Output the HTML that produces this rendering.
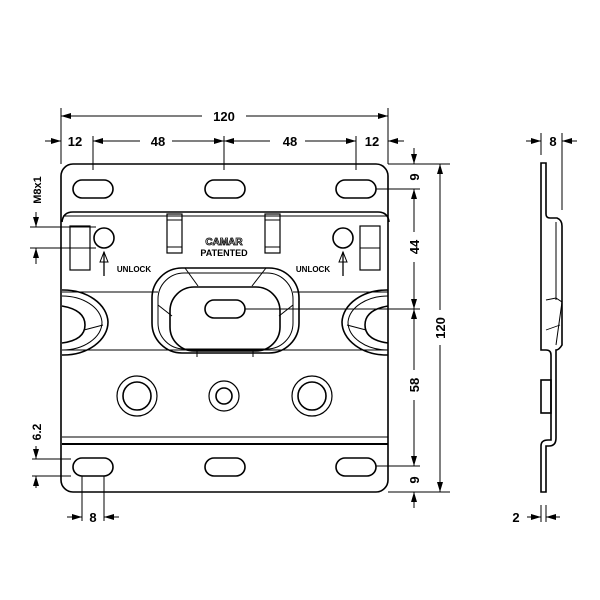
<!DOCTYPE html>
<html><head><style>body{margin:0;background:#fff}svg{display:block}</style></head><body>
<svg width="600" height="600" viewBox="0 0 600 600" xmlns="http://www.w3.org/2000/svg" font-family="Liberation Sans, sans-serif" font-weight="bold">
<defs>
<marker id="a" viewBox="0 0 10 6" refX="10" refY="3" markerWidth="10" markerHeight="6" orient="auto-start-reverse" markerUnits="userSpaceOnUse"><path d="M0,0L10,3L0,6z" fill="#000"/></marker>
</defs>
<g fill="none" stroke="#000" stroke-width="1.6">
<!-- plate -->
<path d="M61,176 A12,12 0 0 1 73,164 H376 A12,12 0 0 1 388,176 V480 A12,12 0 0 1 376,492 H73 A12,12 0 0 1 61,480 Z"/>
<path d="M62,222 Q63,212 73,212 H378 Q388,212 389,222"/>
<line x1="63" y1="216" x2="387" y2="216" stroke-width="0.9"/>
<line x1="62" y1="437" x2="388" y2="437" stroke-width="1"/>
<line x1="62" y1="444" x2="388" y2="444" stroke-width="2"/>
<!-- slots -->
<rect x="73" y="180" width="40" height="18" rx="9"/>
<rect x="205" y="180" width="40" height="18" rx="9"/>
<rect x="336" y="180" width="40" height="18" rx="9"/>
<rect x="73" y="458" width="40" height="18" rx="9"/>
<rect x="205" y="458" width="40" height="18" rx="9"/>
<rect x="336" y="458" width="40" height="18" rx="9"/>
<!-- top features -->
<rect x="70" y="226" width="20" height="44" stroke-width="1.2"/><line x1="70" y1="248" x2="90" y2="248" stroke-width="1"/>
<rect x="360" y="226" width="20" height="44" stroke-width="1.2"/><line x1="360" y1="248" x2="380" y2="248" stroke-width="1"/>
<circle cx="104" cy="238" r="10"/><circle cx="343" cy="238" r="10"/>
<rect x="167" y="214" width="15" height="39" stroke-width="1.2"/><line x1="167" y1="247" x2="182" y2="247" stroke-width="1"/><line x1="167" y1="220" x2="182" y2="220" stroke-width="1"/>
<rect x="265" y="214" width="15" height="39" stroke-width="1.2"/><line x1="265" y1="247" x2="280" y2="247" stroke-width="1"/><line x1="265" y1="220" x2="280" y2="220" stroke-width="1"/>
<!-- unlock arrows -->
<path d="M104,276V252" stroke-width="1.3"/><path d="M100,262L104,252L108,262Z" stroke-width="1"/>
<path d="M343,276V252" stroke-width="1.3"/><path d="M339,262L343,252L347,262Z" stroke-width="1"/>
<!-- central recess -->
<rect x="152" y="268" width="147" height="85" rx="30"/>
<rect x="158" y="273" width="135" height="76" rx="26" stroke-width="1"/>
<rect x="170" y="287" width="110" height="64" rx="24"/>
<rect x="205" y="300" width="40" height="18" rx="9"/>
<line x1="62" y1="292" x2="158" y2="292" stroke-width="1"/><line x1="293" y1="292" x2="388" y2="292" stroke-width="1"/>
<line x1="62" y1="350" x2="388" y2="350" stroke-width="1"/>
<line x1="185" y1="268" x2="198" y2="286" stroke-width="1"/><line x1="266" y1="268" x2="252" y2="286" stroke-width="1"/>
<line x1="158" y1="305" x2="172" y2="316" stroke-width="1"/><line x1="293" y1="305" x2="279" y2="316" stroke-width="1"/>
<line x1="197" y1="350" x2="197" y2="357" stroke-width="1"/><line x1="253" y1="350" x2="253" y2="357" stroke-width="1"/>
<!-- side recesses -->
<path d="M62,290 A45,33 0 0 1 108,322 A45,33 0 0 1 62,355"/>
<path d="M62,296 A40,28 0 0 1 102,322 A40,28 0 0 1 62,350" stroke-width="1"/>
<path d="M62,306 Q85,310 85,325 Q85,340 62,343" />
<line x1="84" y1="330" x2="103" y2="325" stroke-width="1"/>
<path d="M388,290 A45,33 0 0 0 342,322 A45,33 0 0 0 388,355"/>
<path d="M388,296 A40,28 0 0 0 348,322 A40,28 0 0 0 388,350" stroke-width="1"/>
<path d="M388,306 Q365,310 365,325 Q365,340 388,343"/>
<line x1="366" y1="330" x2="347" y2="325" stroke-width="1"/>
<!-- holes -->
<circle cx="137" cy="396" r="20" stroke-width="1.2"/><circle cx="137" cy="396" r="14"/>
<circle cx="224" cy="396" r="15" stroke-width="1.2"/><circle cx="224" cy="396" r="8"/>
<circle cx="312" cy="396" r="20" stroke-width="1.2"/><circle cx="312" cy="396" r="14"/>
<!-- side view -->
<path d="M541,163 H546 V214 Q546,218 550,218 H557 Q562,220 562,226 V345 Q559,350 556,350 V438 Q556,446 549,446 H546 V492 H541 V446 Q541,440 548,440 H551 V355 Q551,350 546,350 H541 Z"/>
<line x1="556" y1="222" x2="556" y2="300" stroke-width="1"/>
<path d="M546,300 L556,298 L562,302 L556,345" stroke-width="1"/>
<line x1="546" y1="330" x2="560" y2="325" stroke-width="0.9"/>
<rect x="541" y="380" width="10" height="33"/>
</g>
<!-- dimensions -->
<g stroke="#000" stroke-width="1" fill="none">
<line x1="61" y1="108" x2="61" y2="164"/><line x1="388" y1="108" x2="388" y2="164"/>
<line x1="61" y1="116" x2="202" y2="116" marker-start="url(#a)"/><line x1="246" y1="116" x2="388" y2="116" marker-end="url(#a)"/>
<line x1="93" y1="136" x2="93" y2="170"/><line x1="224" y1="136" x2="224" y2="170"/><line x1="356" y1="136" x2="356" y2="170"/>
<line x1="45" y1="141" x2="61" y2="141" marker-end="url(#a)"/>
<line x1="93" y1="141" x2="140" y2="141" marker-start="url(#a)"/><line x1="172" y1="141" x2="224" y2="141" marker-end="url(#a)"/>
<line x1="224" y1="141" x2="270" y2="141" marker-start="url(#a)"/><line x1="305" y1="141" x2="356" y2="141" marker-end="url(#a)"/>
<line x1="404" y1="141" x2="388" y2="141" marker-end="url(#a)"/>
<!-- right -->
<line x1="388" y1="164" x2="450" y2="164"/>
<line x1="376" y1="189" x2="420" y2="189"/><line x1="245" y1="309" x2="420" y2="309"/>
<line x1="376" y1="466" x2="420" y2="466"/><line x1="388" y1="492" x2="450" y2="492"/>
<line x1="414" y1="148" x2="414" y2="164" marker-end="url(#a)"/>
<line x1="414" y1="189" x2="414" y2="232" marker-start="url(#a)"/><line x1="414" y1="262" x2="414" y2="309" marker-end="url(#a)"/>
<line x1="414" y1="309" x2="414" y2="370" marker-start="url(#a)"/><line x1="414" y1="400" x2="414" y2="466" marker-end="url(#a)"/>
<line x1="414" y1="508" x2="414" y2="492" marker-end="url(#a)"/>
<line x1="440" y1="164" x2="440" y2="310" marker-start="url(#a)"/><line x1="440" y1="345" x2="440" y2="492" marker-end="url(#a)"/>
<!-- left -->
<line x1="30" y1="227" x2="96" y2="227"/><line x1="30" y1="248" x2="96" y2="248"/>
<line x1="36" y1="212" x2="36" y2="227" marker-end="url(#a)"/><line x1="36" y1="264" x2="36" y2="248" marker-end="url(#a)"/>
<line x1="32" y1="459" x2="71" y2="459"/><line x1="32" y1="476" x2="71" y2="476"/>
<line x1="36" y1="446" x2="36" y2="459" marker-end="url(#a)"/><line x1="36" y1="488" x2="36" y2="476" marker-end="url(#a)"/>
<line x1="82" y1="476" x2="82" y2="521"/><line x1="104" y1="476" x2="104" y2="521"/>
<line x1="67" y1="517" x2="82" y2="517" marker-end="url(#a)"/><line x1="119" y1="517" x2="104" y2="517" marker-end="url(#a)"/>
<!-- side dims -->
<line x1="541" y1="133" x2="541" y2="155"/><line x1="562" y1="133" x2="562" y2="210"/>
<line x1="526" y1="141" x2="541" y2="141" marker-end="url(#a)"/><line x1="577" y1="141" x2="562" y2="141" marker-end="url(#a)"/>
<line x1="541" y1="505" x2="541" y2="522"/><line x1="546" y1="505" x2="546" y2="522"/>
<line x1="527" y1="517" x2="541" y2="517" marker-end="url(#a)"/><line x1="560" y1="517" x2="546" y2="517" marker-end="url(#a)"/>
</g>
<g font-size="13" text-anchor="middle" fill="#000">
<text x="224" y="121">120</text>
<text x="75" y="146">12</text><text x="158" y="146">48</text><text x="290" y="146">48</text><text x="372" y="146">12</text>
<text x="553" y="146">8</text>
<text x="93" y="522">8</text>
<text x="516" y="522">2</text>
<text transform="translate(419,177) rotate(-90)">9</text>
<text transform="translate(419,247) rotate(-90)">44</text>
<text transform="translate(419,385) rotate(-90)">58</text>
<text transform="translate(419,480) rotate(-90)">9</text>
<text transform="translate(445,328) rotate(-90)">120</text>
<text transform="translate(41,432) rotate(-90)" font-size="12">6.2</text>
<text transform="translate(41,190) rotate(-90)" font-size="11">M8x1</text>
</g>
<g font-size="8" fill="#000" text-anchor="middle">
<text x="134" y="272">UNLOCK</text><text x="313" y="272">UNLOCK</text>
<text x="224" y="245" font-size="10" fill="#fff" stroke="#000" stroke-width="0.8">CAMAR</text>
<text x="224" y="256" font-size="9">PATENTED</text>
</g>
</svg>
</body></html>
